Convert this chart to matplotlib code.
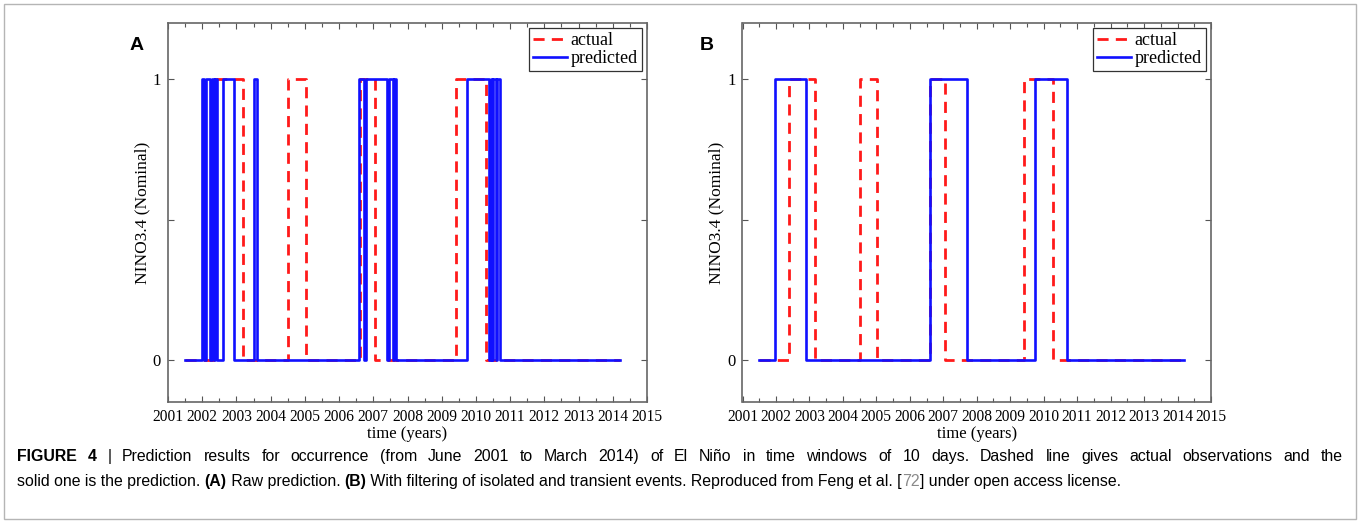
import numpy as np
import matplotlib
matplotlib.use('Agg')
import matplotlib.pyplot as plt
from matplotlib.patches import Rectangle

plt.rcParams['font.family'] = ['Liberation Serif', 'DejaVu Serif']

# observation window (decimal years)
t_start = 2001.5
t_end = 2014.2

# actual El Nino events (rise / fall times)
actual_up = [2002.38, 2004.50, 2006.60, 2009.41]
actual_down = [2003.18, 2005.02, 2007.04, 2010.28]

# A: raw prediction
pred_a_up = [2001.98, 2002.10, 2002.28, 2002.37, 2002.62, 2003.52,
             2006.58, 2006.78, 2007.47, 2007.62,
             2009.73, 2010.43, 2010.50, 2010.62]
pred_a_down = [2002.06, 2002.22, 2002.34, 2002.43, 2002.92, 2003.61,
               2006.74, 2007.39, 2007.58, 2007.66,
               2010.39, 2010.47, 2010.58, 2010.70]

# B: filtered prediction
pred_b_up = [2001.98, 2006.60, 2009.73]
pred_b_down = [2002.91, 2007.70, 2010.71]

years = list(range(2001, 2016))
year_labels = [str(y) for y in years]


def step_series(ups, downs):
    xs = [t_start]
    ys = [0]
    for u, d in zip(ups, downs):
        xs += [u, u, d, d]
        ys += [0, 1, 1, 0]
    xs.append(t_end)
    ys.append(0)
    return np.array(xs), np.array(ys)


fig = plt.figure(figsize=(13.6, 5.27), dpi=100)

# outer frame of the figure panel
fig.patches.append(Rectangle((4 / 1360, 1 - 519 / 527), 1352 / 1360, 515 / 527,
                             transform=fig.transFigure, fill=False,
                             edgecolor='#b5b5b5', lw=1.0))

panels = [
    ('A', [168 / 1360, 1 - 402 / 527, 479 / 1360, 379 / 527], pred_a_up, pred_a_down, 130),
    ('B', [742.5 / 1360, 1 - 402 / 527, 468.5 / 1360, 379 / 527], pred_b_up, pred_b_down, 700),
]

xa, ya = step_series(actual_up, actual_down)

for letter, rect, ups, downs, lx in panels:
    ax = fig.add_axes(rect)
    xp, yp = step_series(ups, downs)
    ax.plot(xa, ya, color='#ff1a1a', lw=2.0, ls=(0, (4, 2.6)), label='actual')
    ax.plot(xp, yp, color='#1010ff', lw=1.9, label='predicted')
    ax.set_xlim(2001, 2015)
    ax.set_ylim(-0.15, 1.2)
    ax.set_xticks(years)
    ax.set_xticklabels(year_labels, fontsize=11.2)
    ax.set_xticks(np.arange(2001.5, 2015, 1), minor=True)
    ax.set_yticks([0, 0.5, 1])
    ax.set_yticklabels(['0', '', '1'], fontsize=12)
    ax.tick_params(which='both', direction='in', top=True, right=True,
                   length=4, width=0.8, color='#555555', pad=5)
    ax.tick_params(which='minor', length=3)
    for s in ax.spines.values():
        s.set_color('#666666')
        s.set_linewidth(1.2)
    ax.set_xlabel('time (years)', fontsize=12, labelpad=1)
    ax.set_ylabel('NINO3.4 (Nominal)', fontsize=12.5, labelpad=2)
    leg = ax.legend(loc='upper right', fontsize=13, handlelength=1.9,
                    handletextpad=0.2, borderpad=0.2, labelspacing=0.05,
                    borderaxespad=0.3, fancybox=False, framealpha=1)
    leg.get_frame().set_edgecolor('#333333')
    leg.get_frame().set_linewidth(0.9)
    fig.text(lx / 1360, 1 - 46 / 527, letter, fontsize=14, fontweight='bold',
             family=['Liberation Sans', 'DejaVu Sans'], va='center')

# caption with mixed bold runs
cap_family = ['Liberation Sans', 'DejaVu Sans']
line1 = [('FIGURE 4', 'bold', 'black'), ('|', 'normal', 'black'),
         ('Prediction results for occurrence (from June 2001 to March 2014) of El Niño in '
          'time windows of 10 days. Dashed line gives actual observations and the', 'normal', 'black')]
line2 = [('solid one is the prediction. ', 'normal', 'black'), ('(A)', 'bold', 'black'),
         (' Raw prediction. ', 'normal', 'black'), ('(B)', 'bold', 'black'),
         (' With filtering of isolated and transient events. Reproduced from Feng et al. [', 'normal', 'black'),
         ('72', 'normal', '#8a8a8a'), ('] under open access license.', 'normal', 'black')]

renderer = fig.canvas.get_renderer()


def put(txt, x, y, size, wt, col):
    return fig.text(x / 1360, 1 - y / 527, txt, fontsize=size, fontweight=wt,
                    color=col, family=cap_family, va='baseline')


def draw_runs(runs, x0, y, size):
    x = x0
    arts = []
    for txt, wt, col in runs:
        t = put(txt, x, y, size, wt, col)
        x += t.get_window_extent(renderer).width
        arts.append(t)
    return arts, x - x0


def draw_justified(runs, x0, y, size, width):
    # justified paragraph line: spread words over the full width
    words = []
    for txt, wt, col in runs:
        for w in txt.split():
            words.append((w, wt, col))
    arts = [put(w, 0, y, size, wt, col) for w, wt, col in words]
    widths = [a.get_window_extent(renderer).width for a in arts]
    gap = (width - sum(widths)) / (len(words) - 1)
    x = x0
    for a, w in zip(arts, widths):
        a.set_x(x / 1360)
        x += w + gap


size = 12
arts, w = draw_runs(line2, 17, 486, size)
for a in arts:
    a.remove()
size = size * 1110 / w
draw_justified(line1, 17, 461, size, 1326)
draw_runs(line2, 17, 486, size)

plt.savefig('out.png', dpi=100)
